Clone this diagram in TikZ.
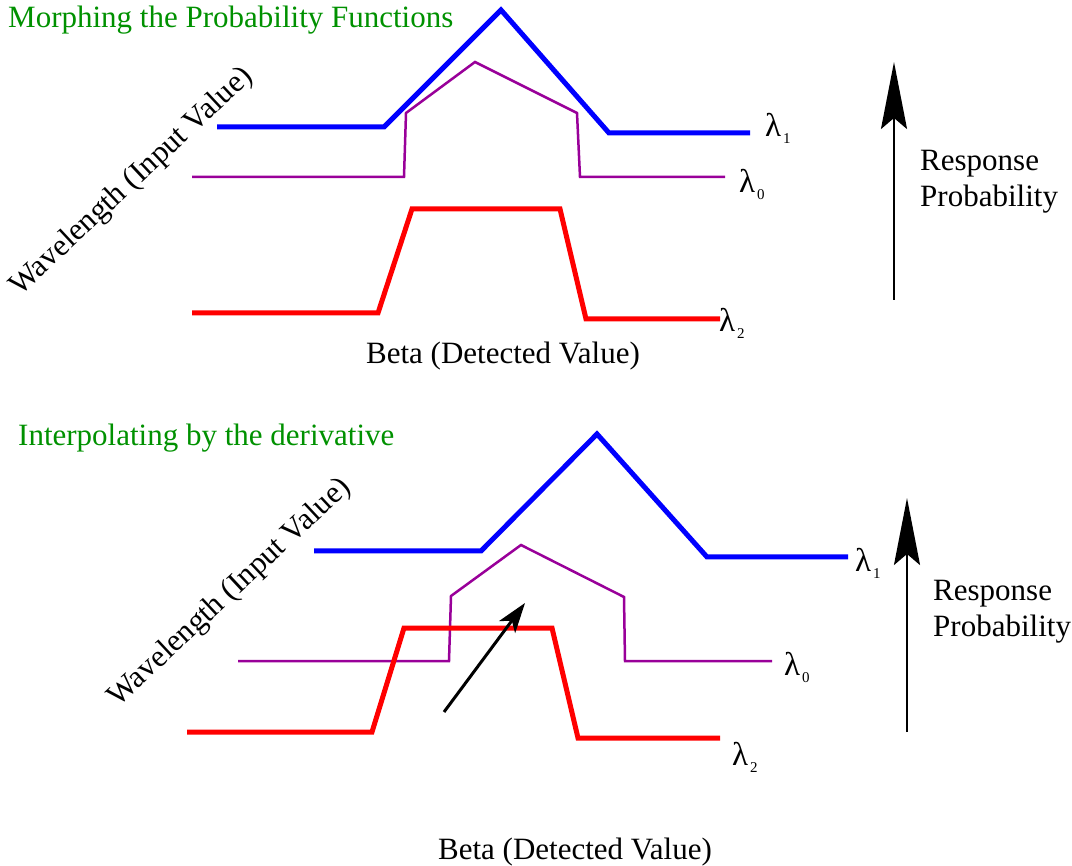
\documentclass[tikz,border=0pt]{standalone}
\usepackage{fontspec}
\setmainfont{Liberation Serif}
\usetikzlibrary{arrows.meta}
\definecolor{curveblue}{RGB}{0,0,255}
\definecolor{curvered}{RGB}{255,0,0}
\definecolor{curvepurple}{RGB}{153,0,153}
\definecolor{titlegreen}{RGB}{0,145,0}
\newcommand{\lam}[1]{{\fontsize{33}{36}\selectfont λ}\kern2pt\raisebox{-7pt}{\fontsize{15}{15}\selectfont #1}}
\begin{document}
\begin{tikzpicture}[x=1pt,y=-1pt,
  txt/.style={font=\fontsize{31}{36}\selectfont, inner sep=0pt},
  title/.style={txt, text=titlegreen, anchor=base west},
  lamlabel/.style={txt, anchor=west},
  thickblue/.style={draw=curveblue, line width=5pt, line join=miter},
  thickred/.style={draw=curvered, line width=5pt, line join=miter},
  thinpurple/.style={draw=curvepurple, line width=2.5pt, line join=miter},
  probarrow/.style={draw=black, line width=2.5pt, -{Stealth[length=67pt,width=26pt,inset=11pt]}},
  smallarrow/.style={draw=black, line width=3pt, -{Stealth[length=30pt,width=20pt,inset=8pt]}}
]
\useasboundingbox (0,0) rectangle (1072,866);

% ---------- top panel ----------
\node[title] (t1) at (8,28) {Morphing the Probability Functions};
\draw[thickblue] (217,127) -- (384,127) -- (501,10) -- (609,133) -- (750,133);
\draw[thinpurple] (192,177) -- (404,177) -- (406,113) -- (475,62) -- (577,113) -- (580,177) -- (725,177);
\draw[thickred] (192,313) -- (378,313) -- (412,209) -- (560,209) -- (586,319) -- (720,319);
\node[lamlabel] (l1a) at (765,128) {\lam{1}};
\node[lamlabel] (l0a) at (739,184) {\lam{0}};
\node[lamlabel] (l2a) at (719,323) {\lam{2}};
\node[txt, rotate=43] (wa) at (132,182) {Wavelength (Input Value)};
\node[txt] (ba) at (503,356) {Beta (Detected Value)};
\coordinate (pa0) at (894,300);
\coordinate (pa1) at (894,62);
\draw[probarrow] (pa0) -- (pa1);
\node[txt, anchor=base west, align=left] (ra) at (920,207) {Response\\Probability};

% ---------- bottom panel ----------
\node[title] (t2) at (18,446) {Interpolating by the derivative};
\draw[thickblue] (314,551) -- (481,551) -- (597,434) -- (707,557) -- (848,557);
\draw[thinpurple] (238,661) -- (449,661) -- (451,596) -- (521,545) -- (624,597) -- (625,661) -- (772,661);
\draw[thickred] (187,732) -- (372,732) -- (404,628) -- (552,628) -- (578,738) -- (720,738);
\coordinate (da0) at (444,712);
\coordinate (da1) at (525,603);
\draw[smallarrow] (da0) -- (da1);
\node[lamlabel] (l1b) at (855,563) {\lam{1}};
\node[lamlabel] (l0b) at (784,667) {\lam{0}};
\node[lamlabel] (l2b) at (732,757) {\lam{2}};
\node[txt, rotate=43] (wb) at (230,593) {Wavelength (Input Value)};
\node[txt] (bb) at (575,852) {Beta (Detected Value)};
\coordinate (pb0) at (907,732);
\coordinate (pb1) at (907,498);
\draw[probarrow] (pb0) -- (pb1);
\node[txt, anchor=base west, align=left] (rb) at (933,637) {Response\\Probability};
\end{tikzpicture}
\end{document}
